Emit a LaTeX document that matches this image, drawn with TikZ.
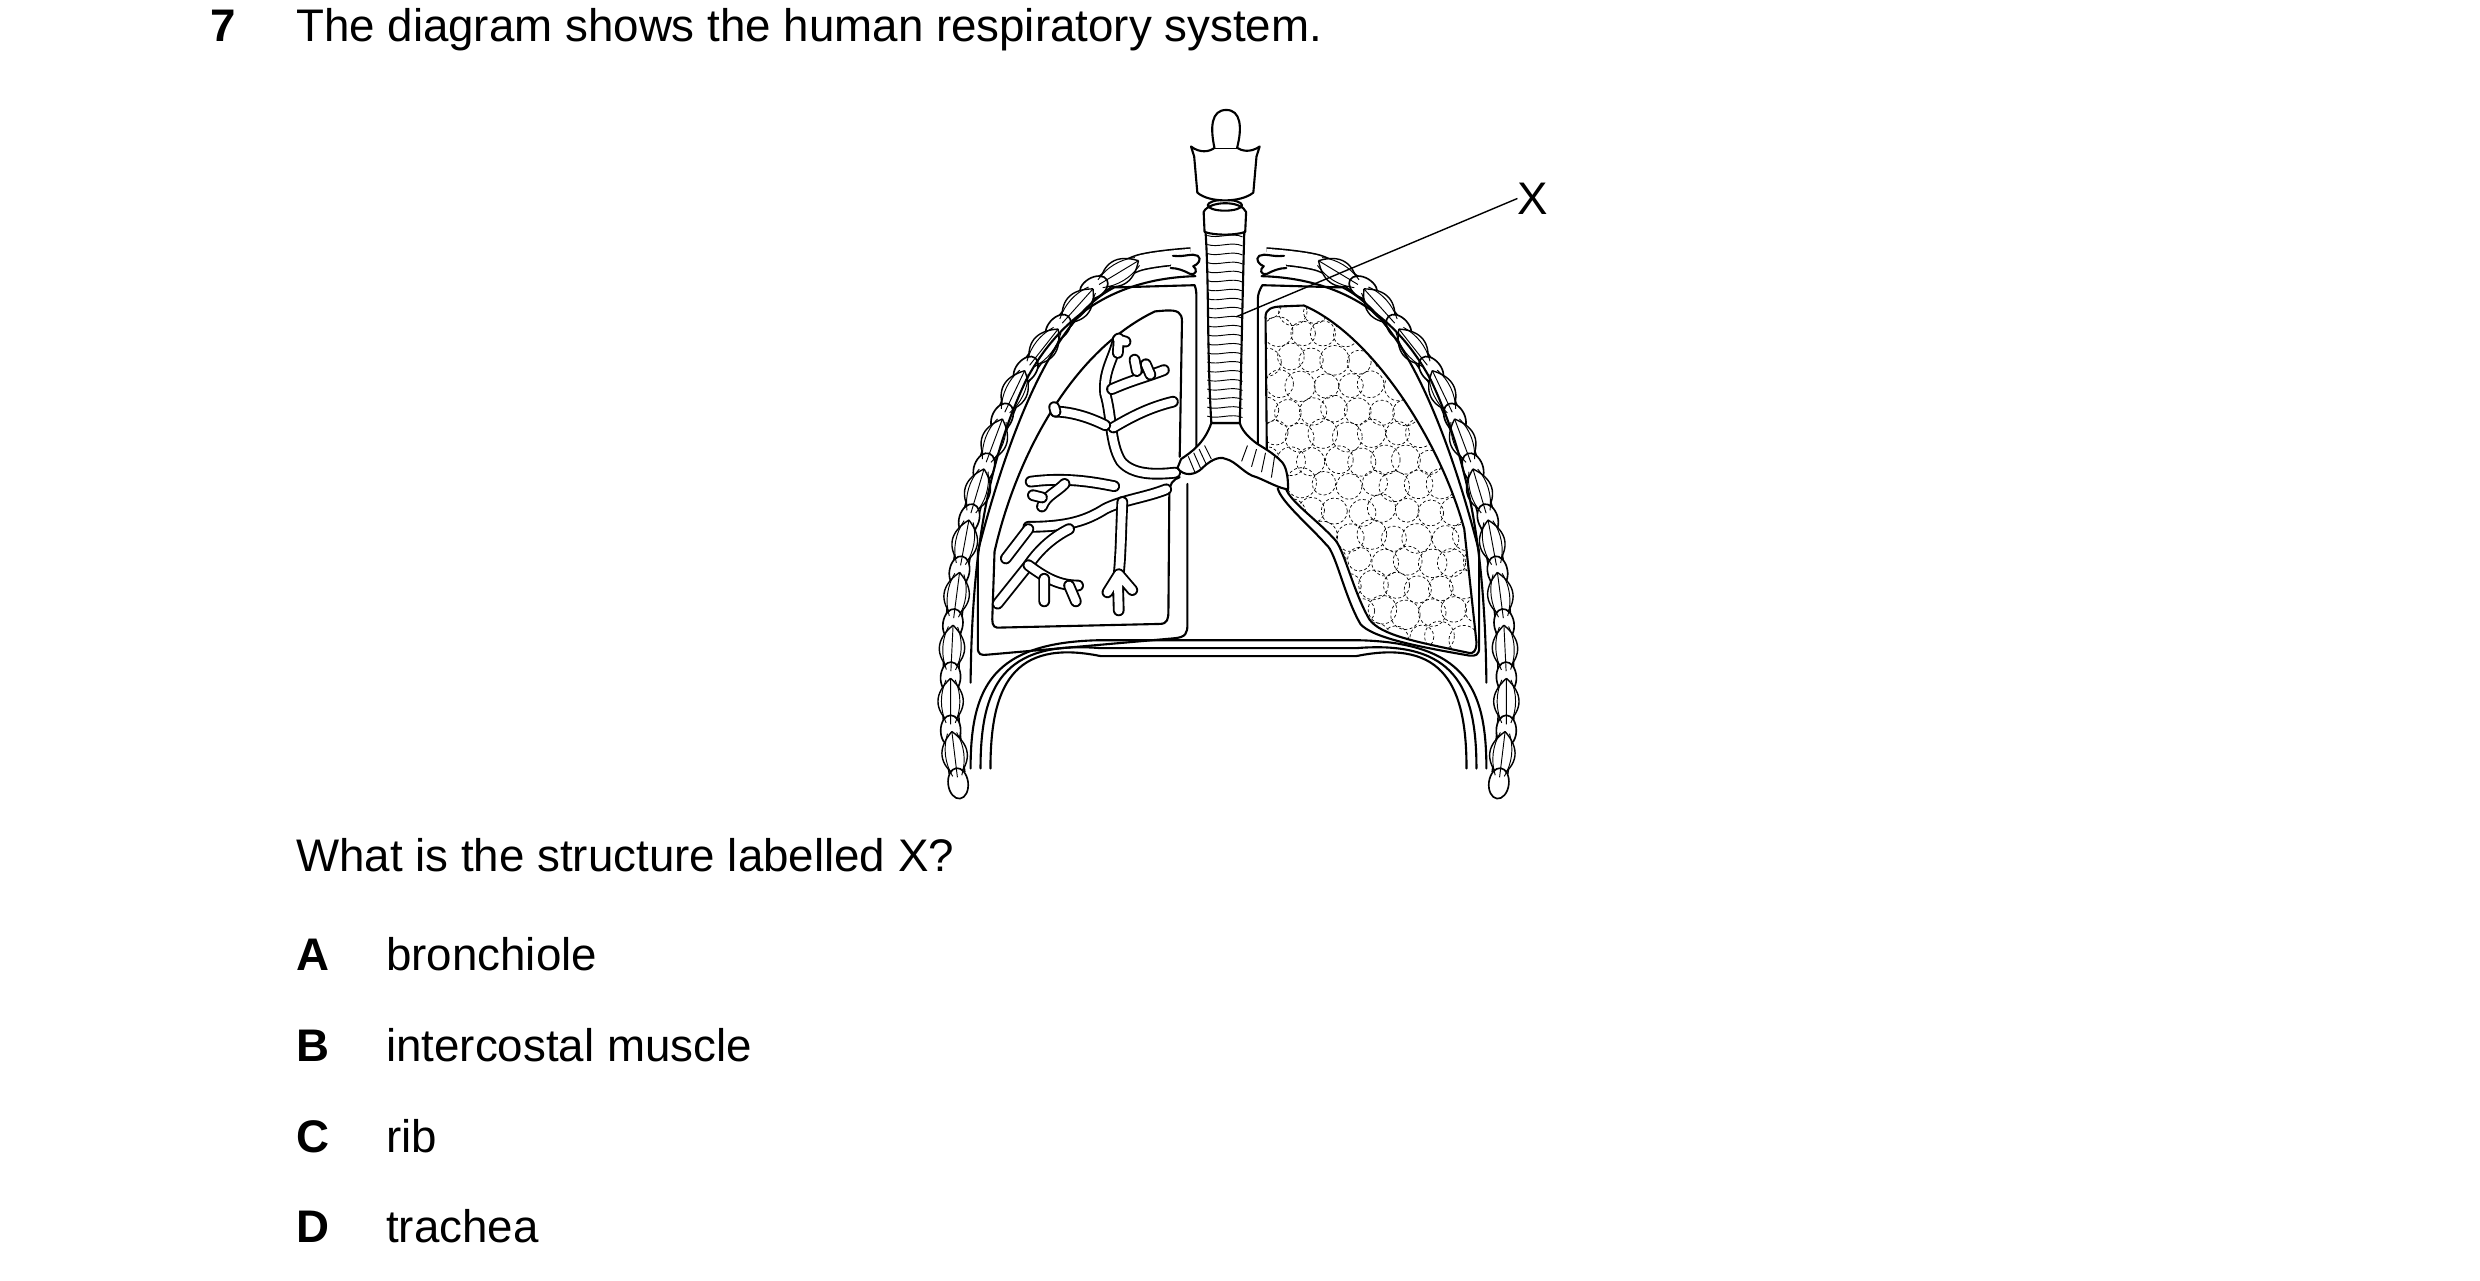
\documentclass[tikz,border=0pt]{standalone}
\usepackage{fontspec}
\setmainfont{Liberation Sans}
\usetikzlibrary{decorations.markings}
\begin{document}
\begin{tikzpicture}[x=0.3mm,y=-0.3mm,
  txt/.style={anchor=base west,inner sep=0pt,font=\fontsize{39}{46}\selectfont},
  bld/.style={txt,font=\fontsize{39}{46}\selectfont\bfseries},
  ln/.style={line width=1.8pt,line join=round,line cap=round},
  thin/.style={line width=0.8pt},
  tube/.style={double=white,double distance=2.4mm,line width=1.6pt,line cap=round},
  ribs/.style={double=white,double distance=4.2mm,line width=1.4pt,
    postaction={decorate,decoration={markings,
      mark=between positions 0.12 and 0.99 step 0.085 with {
        \begin{scope}[scale=1.7]
        \draw[line width=1.2pt,fill=white] (-30,0) .. controls (-10,-22) and (10,-22) .. (30,0) .. controls (10,22) and (-10,22) .. (-30,0);
        \draw[line width=1.4pt,fill=white] (38,0) ellipse (20 and 13);
        \draw[thin] (-28,-6) .. controls (-10,-14) and (10,-14) .. (28,-6) (-28,6) .. controls (-10,14) and (10,14) .. (28,6) (-30,0) -- (30,0);
        \end{scope}}}}},
  alv/.style={dashed,line width=0.6pt,dash pattern=on 2.5pt off 2pt}]
\useasboundingbox (0,0) rectangle (2480,1280);
% texts
\node[bld] (n7) at (210,41) {7};
\node[txt] (q) at (296,41) {The diagram shows the human respiratory system.};
\node[txt] (q2) at (296,871) {What is the structure labelled X?};
\node[bld] (la) at (296,970) {A}; \node[txt] (ta) at (386,970) {bronchiole};
\node[bld] (lb) at (296,1061) {B}; \node[txt] (tb) at (386,1061) {intercostal muscle};
\node[bld] (lc) at (296,1152) {C}; \node[txt] (tc) at (386,1152) {rib};
\node[bld] (ld) at (296,1242) {D}; \node[txt] (td) at (386,1242) {trachea};
\begin{scope}[xshift=920*0.3mm,yshift=-100*0.3mm,x=0.1355mm,y=-0.1355mm]
% ribs
\draw[ribs] plot[smooth] coordinates {(600,345) (480,362) (380,425) (300,515) (220,625) (155,780) (105,950) (75,1150) (68,1350) (82,1490)};
\draw[ribs] plot[smooth] coordinates {(766,345) (886,362) (986,425) (1066,515) (1146,625) (1211,780) (1261,950) (1291,1150) (1298,1350) (1284,1490)};
% outer inner line of chest wall
\draw[ln] (610,390) .. controls (430,395) and (310,480) .. (235,620) .. controls (150,800) and (115,1000) .. (112,1290);
\draw[ln] (756,390) .. controls (936,395) and (1056,480) .. (1131,620) .. controls (1216,800) and (1251,1000) .. (1254,1290);
% diaphragm
\foreach \d in {0,22,44}{
\draw[ln] (112+\d,1480) .. controls (112+\d,1300) and (160+\d,1200-\d*0.2) .. (400,1196+\d*0.8) -- (966,1196+\d*0.8) .. controls (1206-\d,1200-\d*0.2) and (1254-\d,1300) .. (1254-\d,1480);}
% clavicles
\draw[ln,fill=white] (560,345) .. controls (590,348) and (600,338) .. (615,345) .. controls (625,352) and (615,365) .. (605,368) .. controls (615,375) and (612,388) .. (598,385) .. controls (585,378) and (570,372) .. (555,372);
\draw[ln,fill=white] (806,345) .. controls (776,348) and (766,338) .. (751,345) .. controls (741,352) and (751,365) .. (761,368) .. controls (751,375) and (754,388) .. (768,385) .. controls (781,378) and (796,372) .. (811,372);
% left pleura
\draw[ln] (608,410) -- (430,415) .. controls (300,480) and (200,720) .. (128,1000) -- (128,1212) .. controls (128,1228) and (135,1230) .. (150,1228) -- (560,1192) .. controls (590,1190) and (592,1180) .. (592,1160) -- (592,850);
\draw[ln] (608,410) .. controls (612,420) and (612,430) .. (612,440) -- (612,785);
% left lung
\draw[ln] (575,790) -- (580,490) .. controls (580,470) and (570,465) .. (545,466) -- (520,468) .. controls (330,560) and (210,800) .. (165,1000) -- (160,1150) .. controls (160,1165) and (165,1170) .. (180,1168) -- (530,1160) .. controls (548,1160) and (550,1150) .. (550,1130) -- (552,870) .. controls (552,850) and (560,840) .. (575,835);
% bronchial tree
\draw[tube] (565,825) .. controls (520,830) and (470,830) .. (445,800) .. controls (420,760) and (425,700) .. (410,650) .. controls (405,600) and (430,570) .. (438,530);
\draw[tube] (438,560) -- (440,528) (438,530) -- (455,535);
\draw[tube] (428,725) .. controls (470,700) and (510,680) .. (560,668);
\draw[tube] (425,640) .. controls (470,620) and (510,610) .. (540,598);
\draw[tube] (480,600) -- (475,575) (510,608) -- (500,585);
\draw[tube] (410,720) .. controls (370,700) and (330,690) .. (300,690);
\draw[tube] (300,690) -- (297,680);
\draw[tube] (545,862) .. controls (500,880) and (450,885) .. (410,905) .. controls (370,930) and (330,945) .. (240,945);
\draw[tube] (448,890) .. controls (445,950) and (445,1000) .. (440,1050);
\draw[tube] (440,1050) -- (415,1090) (440,1050) -- (470,1085) (438,1060) -- (440,1130);
\draw[tube] (330,950) .. controls (290,970) and (260,1000) .. (240,1030) -- (172,1115);
\draw[tube] (240,1030) .. controls (280,1060) and (310,1075) .. (350,1075);
\draw[tube] (275,1060) -- (275,1110) (330,1075) -- (345,1110);
\draw[tube] (240,950) -- (190,1015);
\draw[tube] (430,855) .. controls (380,845) and (320,835) .. (245,845);
\draw[tube] (320,850) .. controls (300,870) and (280,875) .. (270,900);
\draw[tube] (270,880) -- (250,875);
% right pleura
\draw[ln] (758,410) -- (936,415) .. controls (1066,480) and (1166,720) .. (1238,1000) -- (1238,1212) .. controls (1238,1228) and (1231,1232) .. (1216,1230) .. controls (1100,1210) and (1000,1190) .. (975,1160) .. controls (940,1100) and (920,1000) .. (900,985) .. controls (860,940) and (800,890) .. (792,860);
\draw[ln] (758,410) .. controls (752,420) and (748,430) .. (748,440) -- (748,770);
% right lung
\path[clip] (768,790) -- (765,480) .. controls (765,462) and (780,458) .. (800,457) -- (850,455) .. controls (1000,520) and (1150,750) .. (1205,950) -- (1232,1200) .. controls (1232,1222) and (1225,1226) .. (1215,1224) .. controls (1100,1200) and (1020,1185) .. (995,1150) .. controls (960,1090) and (940,1000) .. (920,975) .. controls (880,930) and (820,890) .. (810,860) -- (812,840) -- cycle;
\pgfmathsetseed{7}
\foreach \i in {0,...,9}{\foreach \j in {0,...,13}{
  \pgfmathsetmacro{\xx}{760+\i*52+mod(\j,2)*26+rnd*14}
  \pgfmathsetmacro{\yy}{455+\j*56+rnd*14}
  \pgfmathsetmacro{\rr}{26+rnd*8}
  \draw[alv] (\xx,\yy) circle (\rr);}}
\end{scope}
\begin{scope}[xshift=920*0.3mm,yshift=-100*0.3mm,x=0.1355mm,y=-0.1355mm]
\draw[ln] (768,790) -- (765,480) .. controls (765,462) and (780,458) .. (800,457) -- (850,455) .. controls (1000,520) and (1150,750) .. (1205,950) -- (1232,1200) .. controls (1232,1222) and (1225,1226) .. (1215,1224) .. controls (1100,1200) and (1020,1185) .. (995,1150) .. controls (960,1090) and (940,1000) .. (920,975) .. controls (880,930) and (820,890) .. (810,860);
% bronchi
\draw[ln,fill=white] (645,715) .. controls (630,760) and (600,780) .. (578,795) -- (570,815) .. controls (585,835) and (610,830) .. (625,815) .. controls (650,790) and (670,790) .. (678,795) .. controls (700,800) and (720,830) .. (745,835) .. controls (770,845) and (795,860) .. (815,862) .. controls (815,830) and (810,810) .. (800,800) .. controls (780,780) and (760,770) .. (745,760) .. controls (725,745) and (712,730) .. (708,715) -- cycle;
\foreach \t in {0,1,2,3}{
  \draw[thin] (630-\t*12,765+\t*8) -- (645-\t*12,795+\t*10);
  \draw[thin] (725+\t*20,765+\t*8) -- (712+\t*22,800+\t*12);}
% trachea
\draw[ln,fill=white] (632,290) .. controls (640,400) and (635,550) .. (645,715) -- (708,715) .. controls (712,550) and (715,400) .. (718,290) -- cycle;
\foreach \k in {0,...,20}{
  \pgfmathsetmacro{\yy}{300+\k*20}
  \draw[thin] (636,\yy) .. controls (660,\yy+8) and (690,\yy-8) .. (714,\yy+3);}
% cricoid
\draw[ln,fill=white] (630,292) -- (628,248) .. controls (640,222) and (712,222) .. (722,248) -- (720,292) .. controls (700,300) and (650,300) .. cycle;
\draw[ln] (675,233) ellipse (38 and 12);
% thyroid
\draw[ln,fill=white] (600,103) -- (607,125) -- (614,205) .. controls (640,228) and (710,228) .. (738,205) -- (745,125) -- (752,103) .. controls (730,118) and (712,112) .. (702,106) -- (652,106) .. controls (640,115) and (620,118) .. cycle;
\draw[ln,fill=white] (652,106) .. controls (642,60) and (645,22) .. (678,22) .. controls (710,22) and (714,60) .. (702,106);
% label X
\node[txt,anchor=center] (X) at (1357,218) {X};
\coordinate (xt) at (700,480);
\draw[line width=1.2pt] (X.west) -- (xt);
\end{scope}
\end{tikzpicture}
\end{document}
